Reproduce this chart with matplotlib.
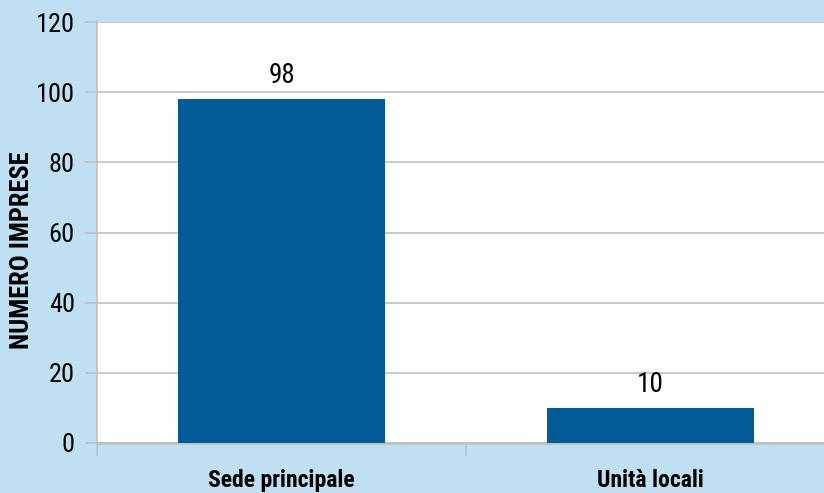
import matplotlib.pyplot as plt
import matplotlib.font_manager as fm

categories = ["Sede principale", "Unità locali"]
values = [98, 10]
yticks = [0, 20, 40, 60, 80, 100, 120]

names = {f.name for f in fm.fontManager.ttflist}
font = 'Roboto Condensed' if 'Roboto Condensed' in names else 'Liberation Sans'
plt.rcParams['font.family'] = [font, 'DejaVu Sans']

bg = '#bee0f2'
bar_color = '#005b96'
grid_color = '#c0c0c0'

fig = plt.figure(figsize=(8.24, 4.93), dpi=100, facecolor=bg)
# plot area runs past the right edge of the picture, as in the original
ax = fig.add_axes([97 / 824, 50 / 493, 738 / 824, 421 / 493])
ax.set_facecolor('white')

x = list(range(len(categories)))
ax.bar(x, values, width=0.56, color=bar_color, zorder=3)
for xi, v in zip(x, values):
    ax.annotate(str(v), (xi, v), xytext=(0, 7), textcoords='offset points',
                ha='center', va='bottom', fontsize=19.5, color='black')

ax.set_xlim(-0.5, 1.5)
ax.set_ylim(0, 120)
ax.set_yticks(yticks)
ax.set_yticklabels([str(t) for t in yticks], fontsize=19)
ax.grid(axis='y', color=grid_color, linewidth=1.2, zorder=0)

# category ticks sit at the category boundaries
ax.set_xticks([-0.5, 0.5, 1.5])
ax.set_xticklabels([])
ax.set_xticks(x, minor=True)
ax.set_xticklabels(categories, minor=True, fontsize=17, fontweight='bold')
ax.tick_params(axis='x', which='minor', length=0, pad=19)
ax.tick_params(axis='x', which='major', length=9, color=grid_color, width=1.2)
ax.tick_params(axis='y', length=9, color=grid_color, width=1.2, pad=7)

for side in ['top', 'right']:
    ax.spines[side].set_visible(False)
ax.spines['left'].set_color(grid_color)
ax.spines['left'].set_linewidth(1.2)
ax.spines['bottom'].set_color(grid_color)
ax.spines['bottom'].set_linewidth(1.8)

ylab = ax.set_ylabel("NUMERO IMPRESE", fontsize=19, fontweight='bold')
ylab.set_verticalalignment('center')
ax.yaxis.set_label_coords((22.5 - 97) / 738, (443 - 250) / 421)

fig.savefig('out.png', dpi=100, facecolor=bg)
